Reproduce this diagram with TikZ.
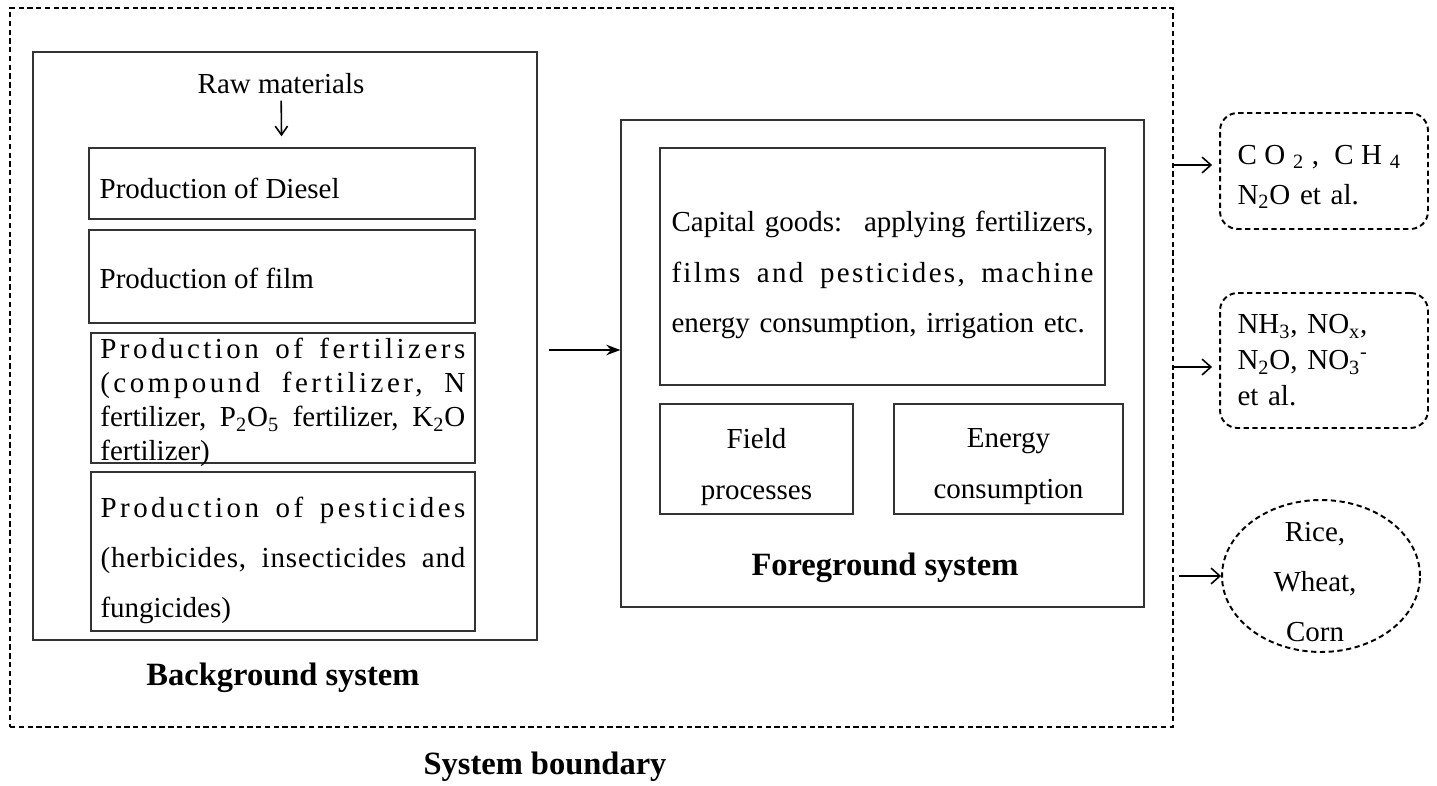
\documentclass[tikz,border=0pt]{standalone}
\usepackage{fontspec}
\setmainfont{Liberation Serif}
\newfontfamily\spaced[LetterSpace=12]{Liberation Serif}
\usetikzlibrary{arrows.meta, shapes.geometric}
\newcommand{\diagfont}{\fontsize{16.5}{20}\selectfont}
\newcommand{\headfont}{\fontsize{18.5}{22}\selectfont\bfseries}

\begin{document}
\begin{tikzpicture}[x=0.02cm, y=-0.02cm,
    box/.style={rectangle, draw=black!80, line width=0.8pt, inner sep=0pt},
    txt/.style={font=\diagfont, inner sep=0pt},
    head/.style={font=\headfont, inner sep=0pt},
    dashline/.style={draw=black, line width=1.1pt, dash pattern=on 3pt off 2pt},
    outbox/.style={rectangle, rounded corners=10pt, dashline, inner sep=0pt},
    flow/.style={draw=black, line width=0.9pt}]

    \useasboundingbox (0,0) rectangle (1437,786);

    % System boundary
    \node[rectangle, dashline, minimum width=23.26cm, minimum height=14.38cm] (sysbound) at (591.5,367.5) {};
    \node[head] (sblabel) at (545,767) {System boundary};

    % Background system (left)
    \node[box, minimum width=10.08cm, minimum height=11.76cm] (bgsys) at (285,346) {};
    \node[txt] (rawmat) at (281,84) {Raw materials};
    \node[box, minimum width=7.72cm, minimum height=1.42cm] (diesel) at (282,183.5) {};
    \node[txt, anchor=west] (diesellbl) at ([xshift=0.22cm, yshift=-0.09cm]diesel.west) {Production of Diesel};
    \node[box, minimum width=7.72cm, minimum height=1.86cm] (film) at (282,276.5) {};
    \node[txt, anchor=west] (filmlbl) at ([xshift=0.22cm, yshift=-0.03cm]film.west) {Production of film};
    \node[box, minimum width=7.68cm, minimum height=2.6cm] (fert) at (283,398) {};
    \node[txt, font={\fontsize{16.5}{19.3}\selectfont}, text width=7.3cm, align=left, anchor=north west] (fertlbl) at (100,338)
        {\makebox[7.3cm][l]{\spaced Production \hfill of \hfill fertilizers}\\
         \makebox[7.3cm][l]{\spaced (compound \hfill fertilizer, \hfill N}\\
         \makebox[7.3cm][l]{fertilizer, \hfill P\textsubscript{2}O\textsubscript{5} \hfill fertilizer, \hfill K\textsubscript{2}O}\\
         fertilizer)};
    \node[box, minimum width=7.68cm, minimum height=3.18cm] (pest) at (283,551.5) {};
    \node[txt, font={\fontsize{16.5}{28.5}\selectfont}, text width=7.3cm, align=left] (pestlbl) at ([yshift=-0.18cm]pest) 
        {\makebox[7.3cm][l]{\spaced Production \hfill of \hfill pesticides}\\
         \makebox[7.3cm][l]{\addfontfeature{LetterSpace=3}(herbicides, \hfill insecticides \hfill and}\\
         fungicides)};
    \node[head] (bglabel) at (283,678) {Background system};

    % Foreground system (middle)
    \node[box, minimum width=10.46cm, minimum height=9.74cm] (fgsys) at (882.5,363.5) {};
    \node[box, minimum width=8.9cm, minimum height=4.74cm] (capital) at (882.5,266.5) {};
    \node[txt, font={\fontsize{16.5}{28.5}\selectfont}, text width=8.44cm, align=left] (capitallbl) at ([yshift=-0.17cm]capital)
        {\makebox[8.44cm][l]{Capital goods: \hfill applying fertilizers,}\\
         \makebox[8.44cm][l]{\addfontfeature{LetterSpace=8}films \hfill and \hfill pesticides, \hfill machine}\\
         energy consumption, irrigation etc.};
    \node[box, minimum width=3.86cm, minimum height=2.2cm] (field) at (756.5,459) {};
    \node[txt, font={\fontsize{16.5}{29}\selectfont}, align=center] (fieldlbl) at ([yshift=-0.16cm]field) {Field\\processes};
    \node[box, minimum width=4.58cm, minimum height=2.2cm] (energy) at (1008.5,459) {};
    \node[txt, font={\fontsize{16.5}{29}\selectfont}, align=center] (energylbl) at ([yshift=-0.16cm]energy) {Energy\\consumption};
    \node[head] (fglabel) at (885,568) {Foreground system};

    % Outputs (right)
    \node[outbox, minimum width=4.16cm, minimum height=2.32cm] (gases) at (1324,171) {};
    \node[txt, font={\fontsize{16.5}{22.8}\selectfont}, text width=3.46cm, align=left] (gaseslbl) at ([yshift=-0.12cm]gases)
        {\makebox[3.42cm][l]{C\hfil O\hfil\textsubscript{2}\hfil,\hfil\hfil C\hfil H\hfil\textsubscript{4}}\\
         N\textsubscript{2}O et al.};
    \node[outbox, txt, font={\fontsize{16.5}{20.5}\selectfont}, minimum width=4.16cm, minimum height=2.7cm, text width=3.46cm, align=left] (nitro) at (1324,360.5)
        {NH\textsubscript{3}, NO\textsubscript{x},\\
         N\textsubscript{2}O, NO\textsubscript{3}\textsuperscript{-}\\
         et al.};
    \node[ellipse, dashline, inner sep=0pt, minimum width=3.96cm, minimum height=3.04cm] (crops) at (1321,576) {};
    \node[txt, font={\fontsize{16.5}{28.5}\selectfont}, align=center] (cropslbl) at (1315,582) {Rice,\\Wheat,\\Corn};

    % Connectors
    \draw[flow, -{Straight Barb[length=5pt, width=7pt]}, shorten <=0.12cm, shorten >=0.22cm] (rawmat) -- (diesel);
    \coordinate (bgout) at ([shift={(0.22cm,-0.08cm)}]bgsys.east);
    \draw[flow, -{Stealth[length=8pt, width=6pt]}] (bgout) -- (bgout -| fgsys.west);
    \coordinate (gasesin) at ([yshift=0.12cm]gases.west);
    \draw[flow, -{Straight Barb[length=5pt, width=9pt]}, shorten >=0.14cm] (gasesin -| sysbound.east) -- (gasesin);
    \coordinate (nitroin) at ([yshift=-0.13cm]nitro.west);
    \draw[flow, -{Straight Barb[length=5pt, width=9pt]}, shorten >=0.14cm] (nitroin -| sysbound.east) -- (nitroin);
    \draw[flow, -{Straight Barb[length=5pt, width=9pt]}] ([xshift=0.1cm]sysbound.east |- crops.west) -- (crops.west);

\end{tikzpicture}
\end{document}
